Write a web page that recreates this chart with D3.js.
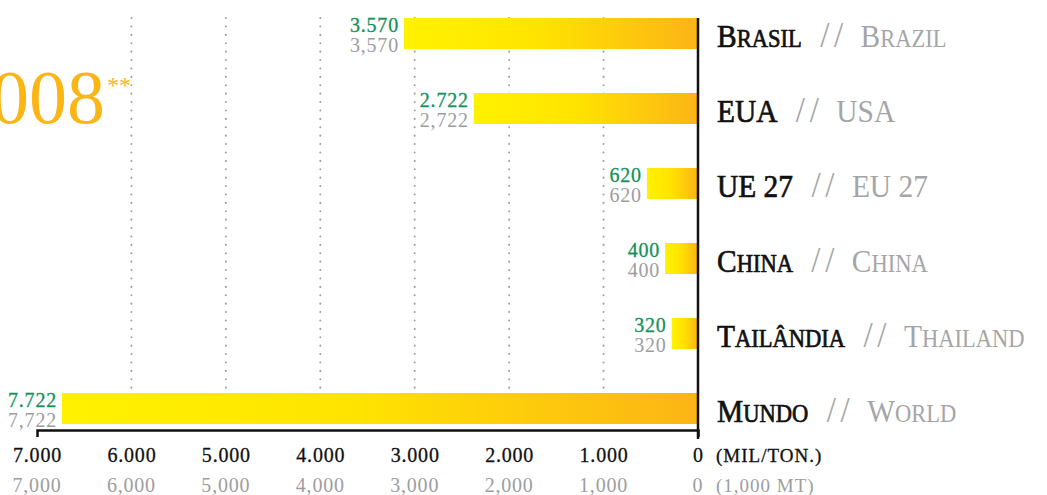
<!DOCTYPE html>
<html lang="pt">
<head>
<meta charset="utf-8">
<title>Produção 2008</title>
<script src="https://d3js.org/d3.v7.min.js"></script>
<style>
  body { margin: 0; background: #fff; }
  text { font-family: "Liberation Serif", "DejaVu Serif", serif; }
</style>
</head>
<body>
<div id="chart"></div>
<script>
// data
const namesPt = ["Brasil", "EUA", "UE 27", "China", "Tailândia", "Mundo"];
const namesEn = ["Brazil", "USA", "EU 27", "China", "Thailand", "World"];
const values = [3570, 2722, 620, 400, 320, 7722];
const tickValues = [7000, 6000, 5000, 4000, 3000, 2000, 1000, 0];
const unitPt = "(MIL/TON.)";
const unitEn = "(1,000 MT)";
const title = "2008";

const width = 1047, height = 495;
const green = "#14915a", grey = "#9d9d9f", orange = "#fbb616";

const fmtPt = d3.formatLocale({decimal: ",", thousands: ".", grouping: [3], currency: ["", ""]}).format(",d");
const fmtEn = d3.format(",d");

const svg = d3.select("#chart").append("svg")
  .attr("width", width)
  .attr("height", height);

const grad = svg.append("defs").append("linearGradient")
  .attr("id", "barGrad");
grad.append("stop").attr("offset", "0%").attr("stop-color", "#fff200");
grad.append("stop").attr("offset", "45%").attr("stop-color", "#ffe400");
grad.append("stop").attr("offset", "100%").attr("stop-color", "#fcb416");

// axis scale and bar scale (the bars in the original are drawn on their own scale)
const x = d3.scaleLinear().domain([0, 7000]).range([698, 37]);
const xb = d3.scaleLinear().domain([0, 7722]).range([698, 62]);
const y = d3.scaleBand().domain(namesPt).range([18, 424]).paddingInner(44 / 75).paddingOuter(0);

// title, cut on the left like the original
svg.append("text")
  .attr("x", 105).attr("y", 123)
  .attr("text-anchor", "end")
  .attr("fill", orange)
  .style("font-size", "76px")
  .text(title);
svg.append("text")
  .attr("x", 107).attr("y", 93)
  .attr("fill", orange)
  .style("font-size", "24px")
  .text("**");

// dotted grid
svg.append("g")
  .selectAll("line")
  .data(tickValues.filter(d => d > 0 && d < 7000))
  .join("line")
    .attr("x1", d => x(d)).attr("x2", d => x(d))
    .attr("y1", 18).attr("y2", 428)
    .attr("stroke", "#a0a0a0")
    .attr("stroke-width", 2)
    .attr("stroke-linecap", "round")
    .attr("stroke-dasharray", "0.1 8.3");

// bars
svg.append("g")
  .selectAll("rect")
  .data(values)
  .join("rect")
    .attr("x", d => xb(d))
    .attr("y", (d, i) => y(namesPt[i]))
    .attr("width", d => xb(0) - xb(d))
    .attr("height", y.bandwidth())
    .attr("fill", "url(#barGrad)");

// value labels
const vl = svg.append("g").attr("text-anchor", "end")
  .style("font-size", "20px").style("letter-spacing", "0.8px");
vl.selectAll("text.pt")
  .data(values)
  .join("text")
    .attr("class", "pt")
    .attr("x", d => xb(d) - 5)
    .attr("y", (d, i) => y(namesPt[i]) + 14)
    .attr("fill", green)
    .attr("stroke", green).attr("stroke-width", 0.3)
    .text(d => fmtPt(d));
vl.selectAll("text.en")
  .data(values)
  .join("text")
    .attr("class", "en")
    .attr("x", d => xb(d) - 5)
    .attr("y", (d, i) => y(namesPt[i]) + 34)
    .attr("fill", grey)
    .text(d => fmtEn(d));

// small caps by hand: capitals big, lower case letters as smaller capitals
function smallCaps(sel, str, big, small) {
  const runs = [];
  for (const ch of str) {
    const isLower = ch !== ch.toUpperCase();
    const last = runs[runs.length - 1];
    if (last && last.lower === isLower) last.s += ch;
    else runs.push({s: ch, lower: isLower});
  }
  runs.forEach(r => {
    sel.append("tspan")
      .style("font-size", (r.lower ? small : big) + "px")
      .text(r.lower ? r.s.toUpperCase() : r.s);
  });
}

// category labels
const cl = svg.append("g")
  .selectAll("text")
  .data(namesPt)
  .join("text")
    .attr("transform", d => `translate(717,${y(d) + y.bandwidth() / 2 + 13}) scale(0.92,1)`);
cl.each(function(d, i) {
  const txt = d3.select(this);
  const pt = txt.append("tspan").attr("fill", "#111").attr("stroke", "#111").attr("stroke-width", 0.7);
  smallCaps(pt, d, 32, 24.5);
  txt.append("tspan").attr("dx", 20).attr("fill", "#a5a5a7")
    .style("font-size", "36px").style("letter-spacing", "5px").text("//");
  const en = txt.append("tspan").attr("dx", 14).attr("fill", "#a5a5a7");
  smallCaps(en, namesEn[i], 32, 24.5);
});

// bottom axis
const axis = svg.append("g")
  .attr("transform", "translate(0,430)")
  .call(d3.axisBottom(x).tickValues(tickValues).tickSizeInner(0).tickSizeOuter(7).tickPadding(18).tickFormat(fmtPt));
axis.select(".domain").attr("stroke", "#111").attr("stroke-width", 2.5);
axis.selectAll(".tick text")
  .attr("fill", "#111")
  .attr("stroke", "#111").attr("stroke-width", 0.3)
  .style("font-size", "20px")
  .style("letter-spacing", "0.8px")
  .style("font-family", "'Liberation Serif', serif");

svg.append("g")
  .selectAll("text")
  .data(tickValues)
  .join("text")
    .attr("x", d => x(d))
    .attr("y", 492)
    .attr("text-anchor", "middle")
    .attr("fill", grey)
    .style("font-size", "20px")
    .style("letter-spacing", "0.8px")
    .text(d => fmtEn(d));

svg.append("text")
  .attr("x", 716).attr("y", 462)
  .attr("fill", "#111")
  .attr("stroke", "#111").attr("stroke-width", 0.3)
  .style("font-size", "19px")
  .style("letter-spacing", "1px")
  .text(unitPt);
svg.append("text")
  .attr("x", 716).attr("y", 492)
  .attr("fill", grey)
  .style("font-size", "19px")
  .style("letter-spacing", "1px")
  .text(unitEn);

// vertical zero line
svg.append("line")
  .attr("x1", x(0)).attr("x2", x(0))
  .attr("y1", 18).attr("y2", 439)
  .attr("stroke", "#111")
  .attr("stroke-width", 2.5);
</script>
</body>
</html>
